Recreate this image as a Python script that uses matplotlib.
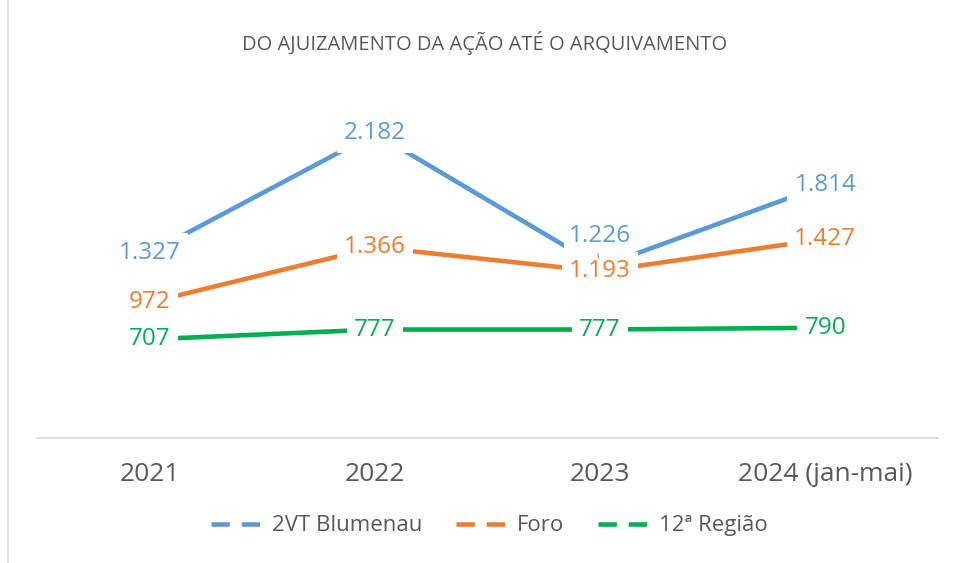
import matplotlib
matplotlib.use('Agg')
import matplotlib.pyplot as plt
from matplotlib.patches import Rectangle
from matplotlib.lines import Line2D

plt.rcParams['font.family'] = ['Open Sans', 'DejaVu Sans']

# Data
years = ['2021', '2022', '2023', '2024 (jan-mai)']
blumenau = [1327, 2182, 1226, 1814]
foro = [972, 1366, 1193, 1427]
regiao = [707, 777, 777, 790]

series = [
    ('2VT Blumenau', blumenau, '#5B9BD5'),
    ('Foro', foro, '#ED7D31'),
    ('12ª Região', regiao, '#00B050'),
]

def fmt(v):
    # Brazilian thousands separator
    return f'{v:,}'.replace(',', '.')

fig = plt.figure(figsize=(9.56, 5.63), dpi=100)
ax = fig.add_axes([0.039, 0.222, 0.942, 0.62])

x = list(range(len(years)))
for name, vals, color in series:
    ax.plot(x, vals, color=color, lw=3.3, solid_capstyle='butt', label=name)

# Data labels with white boxes covering the lines
for name, vals, color in series:
    for i, v in enumerate(vals):
        if name == '2VT Blumenau' and i == 2:
            # moved label with a small leader line
            ax.annotate(fmt(v), (i, v), xytext=(0, 22), textcoords='offset points',
                        ha='center', va='center', fontsize=17.5, color=color,
                        bbox=dict(boxstyle='square,pad=0.2', fc='white', ec='none'),
                        arrowprops=dict(arrowstyle='-', color='#A6A6A6', lw=0.9,
                                        shrinkA=0, shrinkB=6, relpos=(0.45, 0)),
                        zorder=6)
            continue
        ax.annotate(fmt(v), (i, v), ha='center', va='center', fontsize=17.5,
                    color=color,
                    bbox=dict(boxstyle='square,pad=0.3', fc='white', ec='none'),
                    zorder=5)

ax.set_xlim(-0.5, 3.5)
ax.set_ylim(0, 2500)
ax.set_xticks(x)
ax.set_xticklabels(years, fontsize=19, color='#595959')
ax.set_yticks([])
for s in ['top', 'right', 'left']:
    ax.spines[s].set_visible(False)
ax.spines['bottom'].set_color('#D9D9D9')
ax.spines['bottom'].set_linewidth(1.2)
ax.tick_params(axis='x', length=0, pad=17)

fig.text(0.507, 0.924, 'DO AJUIZAMENTO DA AÇÃO ATÉ O ARQUIVAMENTO',
         ha='center', va='center', fontsize=14.5, color='#595959')

# Legend with dashed handles
handles = [Line2D([0], [0], color=c, lw=3.3, linestyle=(0, (4, 2.6)))
           for _, _, c in series]
fig.legend(handles, [s[0] for s in series], loc='center',
           bbox_to_anchor=(0.512, 0.066), ncol=3, frameon=False,
           fontsize=16, labelcolor='#595959', handlelength=2.6,
           handletextpad=0.15, columnspacing=1.5)

fig.patches.append(Rectangle((0.008, -0.01), 1.1, 1.1, transform=fig.transFigure,
                             fill=False, ec='#D9D9D9', lw=1.2))

fig.savefig('out.png', dpi=100)
